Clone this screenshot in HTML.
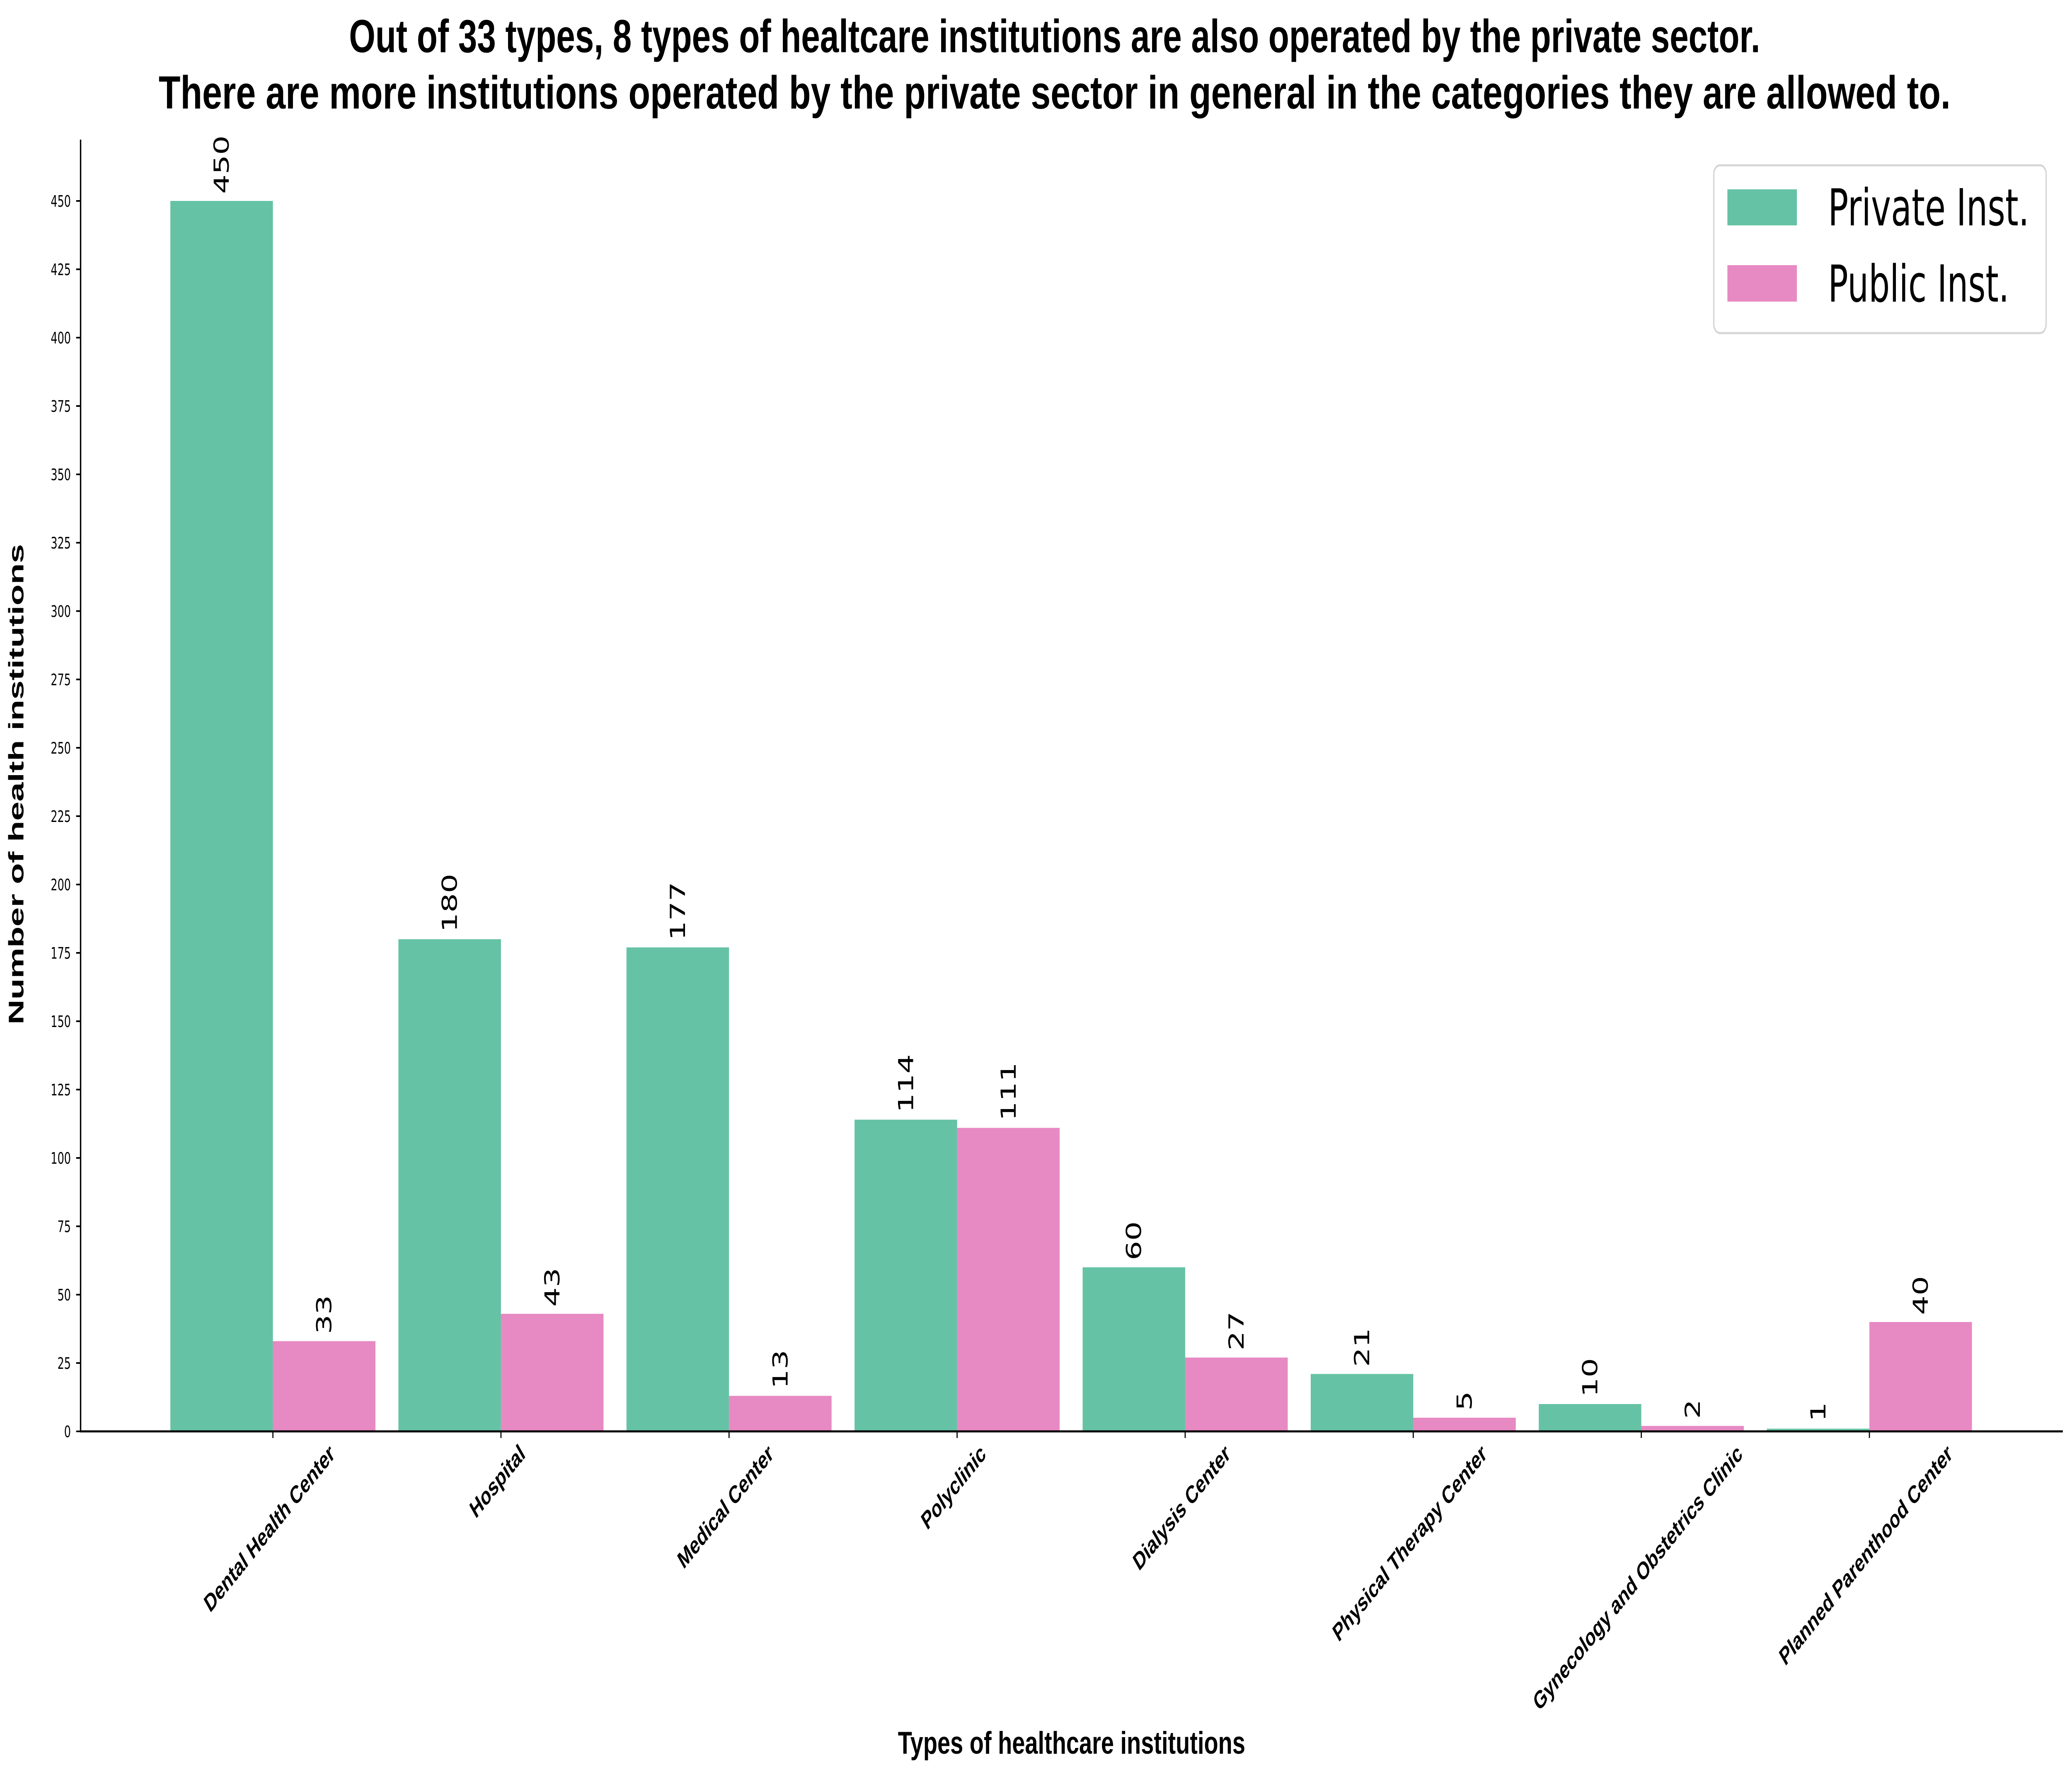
<!DOCTYPE html>
<html><head><meta charset="utf-8"><style>html,body{margin:0;padding:0;background:#fff;width:100vw;height:100vh;overflow:hidden}svg{display:block;width:100vw;height:100vh}</style></head>
<body>
<svg id="chart" viewBox="0 0 7456 4282" preserveAspectRatio="none" xmlns="http://www.w3.org/2000/svg">
<rect width="7456" height="4282" fill="#fff"/>
<g font-family="Liberation Sans, sans-serif" font-weight="bold" font-size="112" text-anchor="middle">
<text x="3795" y="126" textLength="5078" lengthAdjust="spacingAndGlyphs">Out of 33 types, 8 types of healtcare institutions are also operated by the private sector.</text>
<text x="3795" y="262" textLength="6448" lengthAdjust="spacingAndGlyphs">There are more institutions operated by the private sector in general in the categories they are allowed to.</text>
</g>
<g id="yaxis"></g>
<g id="bars"></g>
<g id="xaxis"></g>
<text x="0" y="0" transform="translate(84,1893) rotate(-90)" font-family="Liberation Sans, sans-serif" font-weight="bold" font-size="76" text-anchor="middle" textLength="1160" lengthAdjust="spacingAndGlyphs">Number of health institutions</text>
<text x="3856" y="4233" font-family="Liberation Sans, sans-serif" font-weight="bold" font-size="76" text-anchor="middle" textLength="1250" lengthAdjust="spacingAndGlyphs">Types of healthcare institutions</text>
<g>
<rect x="6167" y="399" width="1196" height="405" rx="22" fill="#fff" stroke="#d6d6d6" stroke-width="5"/>
<rect x="6216" y="457" width="250" height="87" fill="#66c2a5"/>
<rect x="6216" y="640" width="250" height="88" fill="#e78ac3"/>
<text x="6578" y="544" font-family="DejaVu Sans, sans-serif" font-size="123" textLength="724" lengthAdjust="spacingAndGlyphs">Private Inst.</text>
<text x="6578" y="728" font-family="DejaVu Sans, sans-serif" font-size="123" textLength="652" lengthAdjust="spacingAndGlyphs">Public Inst.</text>
</g>
</svg>
<script>
const categories = ["Dental Health Center","Hospital","Medical Center","Polyclinic","Dialysis Center","Physical Therapy Center","Gynecology and Obstetrics Clinic","Planned Parenthood Center"];
const privateValues = [450,180,177,114,60,21,10,1];
const publicValues = [33,43,13,111,27,5,2,40];
const yTicks = [0,25,50,75,100,125,150,175,200,225,250,275,300,325,350,375,400,425,450];

const NS = "http://www.w3.org/2000/svg";
const X0 = 290, Y0 = 3455, PPU = (3455 - 485) / 450;
const G0 = 982, GSTEP = 820.7, BW = 369;
function yScale(v){ return Y0 - v * PPU; }
function xCenter(i){ return G0 + i * GSTEP; }
function mk(tag, attrs, parent){ const e = document.createElementNS(NS, tag); for (const k in attrs) e.setAttribute(k, attrs[k]); parent.appendChild(e); return e; }

const yaxis = document.getElementById('yaxis');
const bars = document.getElementById('bars');
const xaxis = document.getElementById('xaxis');

yTicks.forEach(t => {
  const y = yScale(t);
  const tk = mk('line', {x1: X0 - 16, x2: X0, y1: y, y2: y, stroke: '#000', 'stroke-width': 4}, yaxis);
  
  
  const lb = mk('text', {x: 255, y: y + 14, 'text-anchor': 'end', 'font-family': 'DejaVu Sans, sans-serif', 'font-size': 38}, yaxis);
  lb.textContent = t;
  
  
});

categories.forEach((c, i) => {
  const cx = xCenter(i);
  [[privateValues[i], cx - BW, '#66c2a5', 'private'], [publicValues[i], cx, '#e78ac3', 'public']].forEach(([v, x, col, kind]) => {
    const r = mk('rect', {x: x, y: yScale(v), width: BW, height: Y0 - yScale(v), fill: col}, bars);
    
    
    const tx = x + BW / 2 + 26, ty = yScale(v) - 17;
    const t = mk('text', {x: 0, y: 0, transform: `translate(${tx},${ty}) rotate(-90)`, 'font-family': 'DejaVu Sans, sans-serif', 'font-size': 74}, bars);
    t.textContent = v;
    
    
  });
  const tk = mk('line', {x1: cx, x2: cx, y1: Y0, y2: Y0 + 16, stroke: '#000', 'stroke-width': 4}, xaxis);
  
  
  const lb = mk('text', {x: 0, y: 0, 'text-anchor': 'middle', 'font-family': 'Liberation Sans, sans-serif', 'font-weight': 'bold', 'font-size': 60}, xaxis);
  lb.textContent = c;
  
  
  const L = lb.getComputedTextLength();
  const a = 40 * Math.PI / 180, h = 44;
  const bboxH = L * Math.sin(a) + h * Math.cos(a);
  const cy = 3478 + bboxH / 2;
  lb.setAttribute('transform', `translate(${cx},${cy + 20}) rotate(-40)`);
});

const sl = mk('line', {x1: X0, x2: X0, y1: 337, y2: Y0 + 2, stroke: '#000', 'stroke-width': 5}, yaxis);


const sb = mk('line', {x1: X0 - 2, x2: 7423, y1: Y0, y2: Y0, stroke: '#000', 'stroke-width': 5}, xaxis);


</script>
</body></html>
